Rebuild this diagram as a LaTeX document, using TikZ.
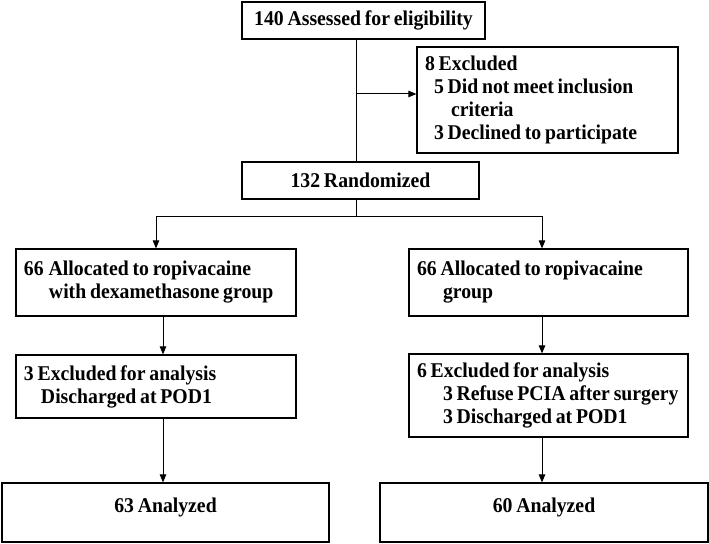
\documentclass[tikz,border=0pt]{standalone}
\usepackage{fontspec}
\setmainfont{Liberation Serif}[FakeStretch=0.94]
\usetikzlibrary{positioning,arrows.meta}
\newcommand{\flowfont}{\fontsize{21bp}{23bp}\selectfont\bfseries\spaceskip=0.18em\relax}
\tikzset{
  box/.style={draw,line width=1.2bp,inner xsep=8bp,inner ysep=0pt,align=left,font=\flowfont,
    execute at begin node={\spaceskip=0.18em\relax}},
  cbox/.style={draw,line width=1.2bp,align=center,font=\flowfont},
  arr/.style={-{Triangle[length=8bp,width=6.5bp]},line width=1bp},
  link/.style={line width=1bp}
}
\begin{document}
\begin{tikzpicture}[x=1bp,y=-1bp]
\useasboundingbox (0,0) rectangle (709,544);

\node[cbox, minimum width=243bp, minimum height=37bp] (assess) at (363.5,20.5) {140 Assessed for eligibility};
\node[box, text width=245bp, minimum height=106bp] (excl) at (547.5,100) {8 Excluded\\\hspace*{9bp}5 Did not meet inclusion\\\hspace*{26bp}criteria\\\hspace*{9bp}3 Declined to participate};
\node[cbox, minimum width=237bp, minimum height=37bp] (rand) at (360.5,180.5) {132 Randomized};

\node[box, text width=264bp, minimum height=67bp] (lalloc) at (156,282.5) {66\hspace{5bp}Allocated to ropivacaine\\\hspace*{25bp}with dexamethasone group};
\node[box, text width=263bp, minimum height=67bp] (ralloc) at (548.5,282.5) {66 Allocated to ropivacaine\\\hspace*{26bp}group};

\node[box, text width=264bp, minimum height=63bp] (lexcl) at (156,386.5) {3 Excluded for analysis\\\hspace*{17bp}Discharged at POD1};
\node[box, text width=263bp, minimum height=83bp] (rexcl) at (548.5,395.5) {6 Excluded for analysis\\\hspace*{26bp}\mbox{3 Refuse PCIA after surgery}\\\hspace*{26bp}3 Discharged at POD1};

\node[cbox, minimum width=327bp, minimum height=59bp, text depth=14bp] (lana) at (165.5,512.5) {63 Analyzed};
\node[cbox, minimum width=328bp, minimum height=59bp, text depth=14bp] (rana) at (544,512.5) {60 Analyzed};

\coordinate (trunk) at (356,94);
\coordinate (fork) at (356,217);
\coordinate (lcol) at (163,0);
\coordinate (rcol) at (542,0);

\draw[link] (assess.south -| trunk) -- (rand.north -| trunk);
\draw[arr] (trunk) -- (trunk -| excl.west);

\draw[link] (rand.south -| fork) -- (fork);
\draw[arr] (fork) -| (lalloc.north);
\draw[arr] (fork) -| (ralloc.north -| rcol);

\draw[arr] (lalloc.south -| lcol) -- (lexcl.north -| lcol);
\draw[arr] (lexcl.south -| lcol) -- (lana.north -| lcol);
\draw[arr] (ralloc.south -| rcol) -- (rexcl.north -| rcol);
\draw[arr] (rexcl.south -| rcol) -- (rana.north -| rcol);
\end{tikzpicture}
\end{document}
